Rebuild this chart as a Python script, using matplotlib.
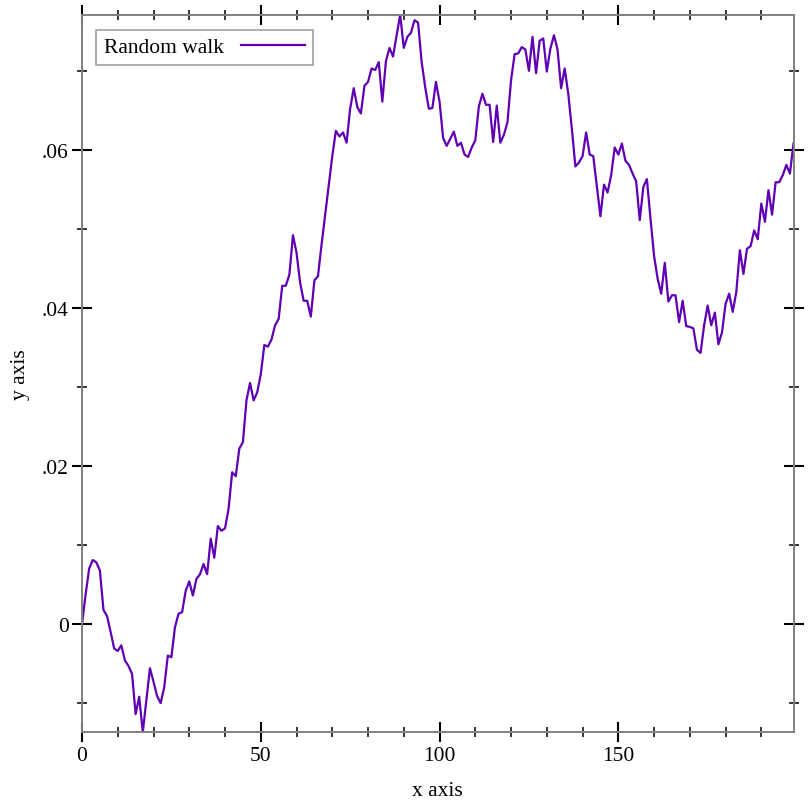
#!/usr/bin/env python3
import matplotlib
matplotlib.use("Agg")
import matplotlib.pyplot as plt
from matplotlib.ticker import FixedLocator, MultipleLocator

# values, one per step (0..199)
walk = [
    0.0, 0.0037, 0.0070, 0.0081, 0.0078, 0.0068, 0.0018, 0.0010, -0.0010, -0.0031,
    -0.0034, -0.0027, -0.0046, -0.0053, -0.0063, -0.0114, -0.0092, -0.0137, -0.0097, -0.0056,
    -0.0073, -0.0091, -0.0100, -0.0080, -0.0040, -0.0042, -0.0004, 0.0013, 0.0015, 0.0042,
    0.0054, 0.0036, 0.0057, 0.0063, 0.0076, 0.0063, 0.0108, 0.0084, 0.0124, 0.0118,
    0.0121, 0.0146, 0.0192, 0.0187, 0.0222, 0.0230, 0.0283, 0.0305, 0.0283, 0.0293,
    0.0316, 0.0353, 0.0351, 0.0360, 0.0378, 0.0386, 0.0428, 0.0428, 0.0442, 0.0492,
    0.0470, 0.0432, 0.0409, 0.0409, 0.0389, 0.0435, 0.0440, 0.0480, 0.0517, 0.0555,
    0.0592, 0.0624, 0.0617, 0.0622, 0.0609, 0.0652, 0.0678, 0.0654, 0.0646, 0.0681,
    0.0686, 0.0703, 0.0701, 0.0711, 0.0661, 0.0712, 0.0729, 0.0718, 0.0745, 0.0771,
    0.0729, 0.0743, 0.0748, 0.0764, 0.0761, 0.0711, 0.0679, 0.0652, 0.0653, 0.0686,
    0.0661, 0.0615, 0.0605, 0.0614, 0.0623, 0.0605, 0.0609, 0.0594, 0.0591, 0.0603,
    0.0612, 0.0655, 0.0671, 0.0657, 0.0657, 0.0610, 0.0656, 0.0609, 0.0619, 0.0635,
    0.0688, 0.0721, 0.0722, 0.0730, 0.0727, 0.0700, 0.0743, 0.0697, 0.0738, 0.0741,
    0.0699, 0.0728, 0.0745, 0.0727, 0.0678, 0.0703, 0.0671, 0.0627, 0.0579, 0.0584,
    0.0592, 0.0622, 0.0594, 0.0592, 0.0554, 0.0516, 0.0556, 0.0546, 0.0568, 0.0603,
    0.0594, 0.0608, 0.0586, 0.0581, 0.0570, 0.0560, 0.0511, 0.0553, 0.0563, 0.0513,
    0.0466, 0.0437, 0.0418, 0.0457, 0.0408, 0.0416, 0.0416, 0.0382, 0.0409, 0.0377,
    0.0376, 0.0374, 0.0347, 0.0343, 0.0378, 0.0403, 0.0378, 0.0394, 0.0354, 0.0369,
    0.0405, 0.0418, 0.0395, 0.0420, 0.0473, 0.0443, 0.0475, 0.0478, 0.0498, 0.0487,
    0.0532, 0.0509, 0.0549, 0.0518, 0.0559, 0.0559, 0.0568, 0.0581, 0.0570, 0.0608,
]
steps = list(range(len(walk)))

x_ticks = [0, 50, 100, 150]
y_ticks = [0, 0.02, 0.04, 0.06]
y_tick_labels = ["0", ".02", ".04", ".06"]

plt.rcParams['font.family'] = ['Liberation Serif', 'DejaVu Serif']
plt.rcParams['font.size'] = 15.5

fig = plt.figure(figsize=(8.12, 8.12), dpi=100)
ax = fig.add_axes([82 / 812, 1 - 733.3 / 812, 711.5 / 812, 717.6 / 812])

ax.plot(steps, walk, color='#5f00b4', lw=1.6, label="Random walk")
ax.set_xlim(0, len(walk) - 1)
ax.set_ylim(min(walk), max(walk))

ax.xaxis.set_major_locator(FixedLocator(x_ticks))
ax.xaxis.set_minor_locator(MultipleLocator(10))
ax.yaxis.set_major_locator(FixedLocator(y_ticks))
ax.yaxis.set_minor_locator(MultipleLocator(0.01))
ax.set_yticklabels(y_tick_labels)

for s in ax.spines.values():
    s.set_color('#808080')
    s.set_linewidth(1.4)
ax.tick_params(which='both', direction='inout', top=True, right=True, color='black')
ax.tick_params(which='major', length=14.4, width=1.5, pad=2.5)
ax.tick_params(which='minor', length=7.2, width=1.1)

ax.set_xlabel("x axis", labelpad=12)
ax.set_ylabel("y axis", labelpad=8.5)

leg = ax.legend(loc='upper left', bbox_to_anchor=(0.0197, 0.979), borderaxespad=0,
                markerfirst=False, handlelength=3.0, handletextpad=0.8,
                fancybox=False, framealpha=1, edgecolor='#a0a0a0', borderpad=0.35)
leg.get_frame().set_linewidth(1.2)

fig.savefig('out.png', dpi=100)
